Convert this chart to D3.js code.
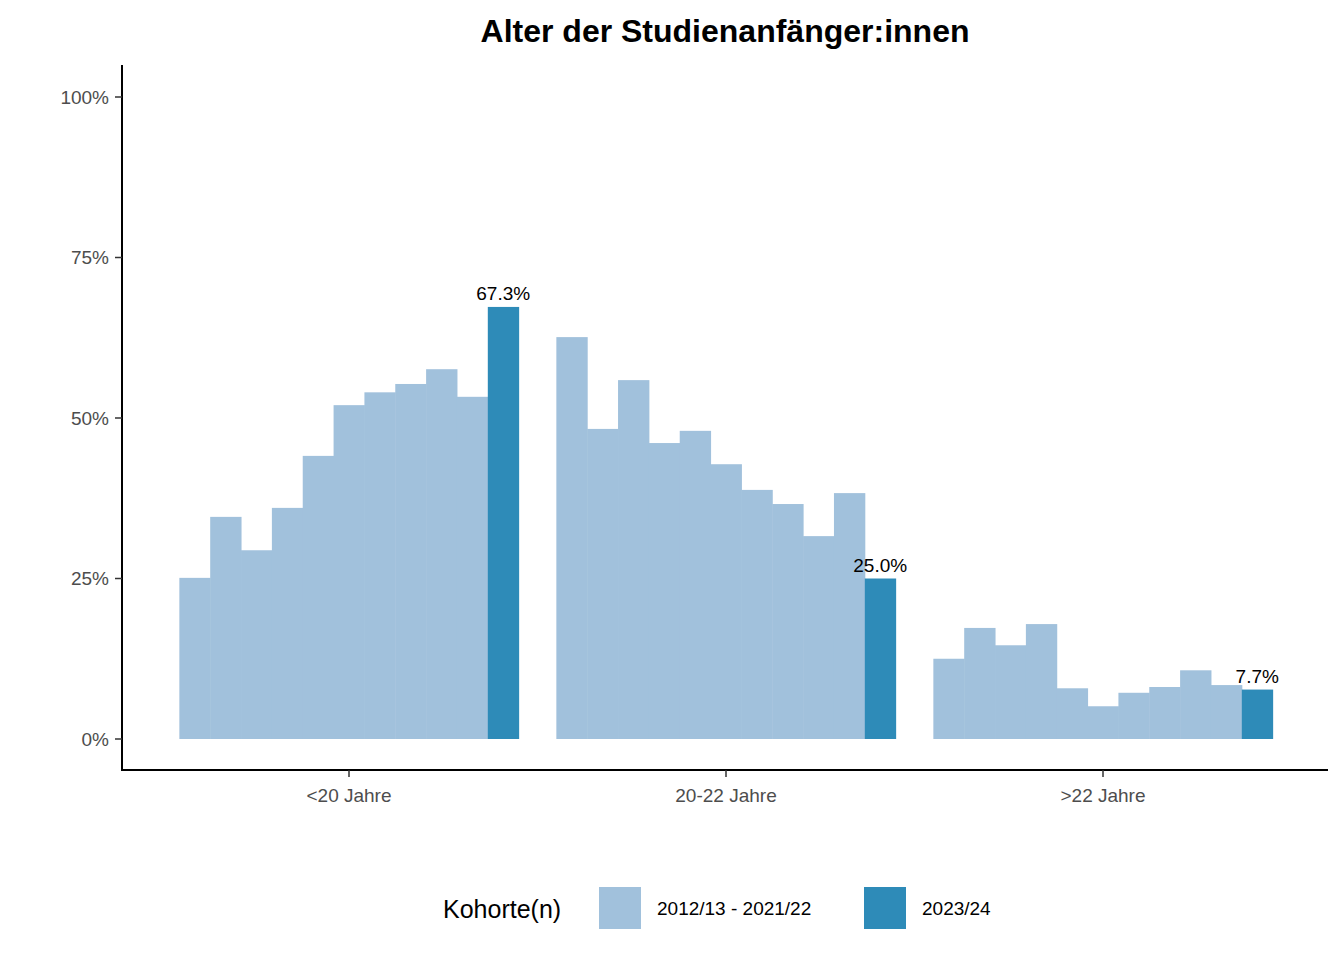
<!DOCTYPE html>
<html><head><meta charset="utf-8">
<script src="https://cdn.jsdelivr.net/npm/d3@7"></script>
<style>body{margin:0;background:#fff}text{font-family:"Liberation Sans",Arial,sans-serif}</style>
</head><body><svg id="chart" width="1344" height="960"></svg>
<script>
var categories = ["<20 Jahre", "20-22 Jahre", ">22 Jahre"];
var cohorts = ["2012/13","2013/14","2014/15","2015/16","2016/17","2017/18","2018/19","2019/20","2020/21","2021/22","2023/24"];
var values = [
    [25.1, 34.6, 29.4, 36.0, 44.1, 52.0, 54.0, 55.3, 57.6, 53.3, 67.3],
    [62.6, 48.3, 55.9, 46.1, 48.0, 42.8, 38.8, 36.6, 31.6, 38.3, 25.0],
    [12.5, 17.3, 14.6, 17.9, 7.9, 5.1, 7.2, 8.1, 10.7, 8.4, 7.7]
];
var yTicks = [0, 25, 50, 75, 100];
var legendLabels = ["2012/13 - 2021/22", "2023/24"];
var colors = ["#a1c1dc", "#2e8bb8"];

var svg = d3.select("#chart");

var x = d3.scaleBand().domain(categories).range([160.5, 1291.5]).paddingInner(0.1).paddingOuter(0.05);
var xInner = d3.scaleBand().domain(cohorts).range([0, x.bandwidth()]);
var y = d3.scaleLinear().domain([0, 100]).range([739, 97]);

// Bars
categories.forEach(function (cat, i) {
    var g = svg.append("g").attr("transform", "translate(" + x(cat) + ",0)");
    g.selectAll("rect").data(values[i]).enter().append("rect")
        .attr("x", function (d, j) { return xInner(cohorts[j]); })
        .attr("width", xInner.bandwidth() + 0.5)
        .attr("y", function (d) { return y(d); })
        .attr("height", function (d) { return y(0) - y(d); })
        .attr("fill", function (d, j) { return j === cohorts.length - 1 ? colors[1] : colors[0]; });

    var last = values[i][cohorts.length - 1];
    g.append("text")
        .attr("x", xInner(cohorts[cohorts.length - 1]) + xInner.bandwidth() / 2)
        .attr("y", y(last) - 7)
        .attr("text-anchor", "middle")
        .style("font-size", "19px")
        .attr("fill", "#000")
        .text(last.toFixed(1) + "%");
});

// Axes
svg.append("line").attr("x1", 122).attr("x2", 122).attr("y1", 65).attr("y2", 771).attr("stroke", "#000").attr("stroke-width", 2);
svg.append("line").attr("x1", 121).attr("x2", 1328).attr("y1", 770).attr("y2", 770).attr("stroke", "#000").attr("stroke-width", 2);

yTicks.forEach(function (t) {
    svg.append("line").attr("x1", 115).attr("x2", 122).attr("y1", y(t)).attr("y2", y(t)).attr("stroke", "#333").attr("stroke-width", 1.5);
    svg.append("text").attr("x", 109).attr("y", y(t)).attr("dy", "0.35em").attr("text-anchor", "end")
        .style("font-size", "19px").attr("fill", "#4d4d4d").text(t + "%");
});

categories.forEach(function (cat) {
    var cx = x(cat) + x.bandwidth() / 2;
    svg.append("line").attr("x1", cx).attr("x2", cx).attr("y1", 770).attr("y2", 777).attr("stroke", "#333").attr("stroke-width", 1.5);
    svg.append("text").attr("x", cx).attr("y", 802).attr("text-anchor", "middle")
        .style("font-size", "19px").attr("fill", "#4d4d4d").text(cat);
});

// Title
svg.append("text").attr("x", 725).attr("y", 42).attr("text-anchor", "middle")
    .style("font-size", "32px").style("font-weight", "bold").text("Alter der Studienanfänger:innen");

// Legend
svg.append("text").attr("x", 443).attr("y", 918).style("font-size", "25px").text("Kohorte(n)");
var legendX = [599, 864];
legendLabels.forEach(function (lab, i) {
    svg.append("rect").attr("x", legendX[i]).attr("y", 887).attr("width", 42).attr("height", 42).attr("fill", colors[i]);
    svg.append("text").attr("x", legendX[i] + 58).attr("y", 915).style("font-size", "19px").text(lab);
});
</script></body></html>
